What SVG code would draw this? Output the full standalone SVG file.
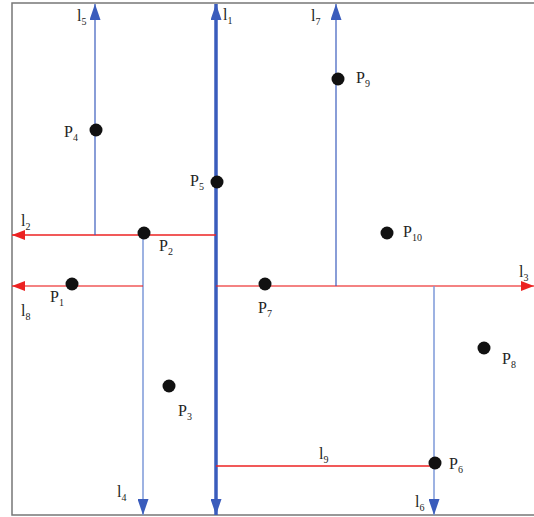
<svg xmlns="http://www.w3.org/2000/svg" width="534" height="517" viewBox="0 0 534 517">
<style>
.t{font-family:"Liberation Serif","Times New Roman",serif;font-size:16px;fill:#222}
.s{font-size:10px}
.dot{fill:#111}
.blue{stroke:#3a5cbc;fill:none}
.lblue{stroke:#7d98d8;fill:none}
.red{stroke:#ec2222;fill:none}
</style>
<defs>
<marker id="ab" markerUnits="userSpaceOnUse" markerWidth="16" markerHeight="11" refX="16" refY="5.5" orient="auto" viewBox="0 0 16 11">
<path d="M0,0 L16,5.5 L0,11 Z" fill="#3a5cbc"/>
</marker>
<marker id="ar" markerUnits="userSpaceOnUse" markerWidth="13" markerHeight="10" refX="13" refY="5" orient="auto" viewBox="0 0 13 10">
<path d="M0,0 L13,5 L0,10 Z" fill="#ec2222"/>
</marker>
</defs>
<path d="M534,3 H12 V515 H534" fill="none" stroke="#777" stroke-width="1.5"/>
<g id="connectors">
<line id="l1a" class="blue" x1="216" y1="236" x2="216" y2="4" stroke-width="3.5" marker-end="url(#ab)"/>
<line id="l1b" class="blue" x1="216" y1="236" x2="216" y2="515" stroke-width="3.5" marker-end="url(#ab)"/>
<line id="l2" class="red" x1="216" y1="235" x2="12" y2="235" stroke-width="1.5" marker-end="url(#ar)"/>
<line id="l5" class="blue" x1="95" y1="235" x2="95" y2="4" stroke-width="1.2" marker-end="url(#ab)"/>
<line id="l4" class="lblue" x1="143" y1="235" x2="143" y2="515" stroke-width="1.5" marker-end="url(#ab)"/>
<line id="l8" class="red" x1="143" y1="286" x2="12" y2="286" stroke-width="1.5" stroke-opacity="0.75" marker-end="url(#ar)"/>
<line id="l3" class="red" x1="216" y1="286" x2="534" y2="286" stroke-width="1.5" stroke-opacity="0.75" marker-end="url(#ar)"/>
<line id="l7" class="blue" x1="336" y1="286" x2="336" y2="4" stroke-width="1.2" marker-end="url(#ab)"/>
<line id="l6" class="lblue" x1="434" y1="286" x2="434" y2="515" stroke-width="1.5" marker-end="url(#ab)"/>
<line id="l9" class="red" x1="216" y1="466" x2="434" y2="466" stroke-width="1.5"/>
</g>
<g id="P1"><circle class="dot" cx="72" cy="284" r="6.5"/><text class="t" x="50" y="302">P<tspan class="s" dy="4">1</tspan></text></g>
<g id="P2"><circle class="dot" cx="144" cy="233" r="6.5"/><text class="t" x="159" y="251">P<tspan class="s" dy="4">2</tspan></text></g>
<g id="P3"><circle class="dot" cx="169" cy="386" r="6.5"/><text class="t" x="178" y="416">P<tspan class="s" dy="4">3</tspan></text></g>
<g id="P4"><circle class="dot" cx="96" cy="130" r="6.5"/><text class="t" x="64" y="137">P<tspan class="s" dy="4">4</tspan></text></g>
<g id="P5"><circle class="dot" cx="217" cy="182" r="6.5"/><text class="t" x="190" y="186">P<tspan class="s" dy="4">5</tspan></text></g>
<g id="P6"><circle class="dot" cx="435" cy="463" r="6.5"/><text class="t" x="449" y="469">P<tspan class="s" dy="4">6</tspan></text></g>
<g id="P7"><circle class="dot" cx="265" cy="284" r="6.5"/><text class="t" x="258" y="313">P<tspan class="s" dy="4">7</tspan></text></g>
<g id="P8"><circle class="dot" cx="484" cy="348" r="6.5"/><text class="t" x="502" y="364">P<tspan class="s" dy="4">8</tspan></text></g>
<g id="P9"><circle class="dot" cx="338" cy="79" r="6.5"/><text class="t" x="356" y="83">P<tspan class="s" dy="4">9</tspan></text></g>
<g id="P10"><circle class="dot" cx="387" cy="233" r="6.5"/><text class="t" x="403" y="237">P<tspan class="s" dy="4">10</tspan></text></g>
<g id="labels">
<text class="t" x="223" y="20">l<tspan class="s" dy="4">1</tspan></text>
<text class="t" x="21" y="226">l<tspan class="s" dy="4">2</tspan></text>
<text class="t" x="519" y="277">l<tspan class="s" dy="4">3</tspan></text>
<text class="t" x="117" y="497">l<tspan class="s" dy="4">4</tspan></text>
<text class="t" x="77" y="21">l<tspan class="s" dy="4">5</tspan></text>
<text class="t" x="415" y="507">l<tspan class="s" dy="4">6</tspan></text>
<text class="t" x="311" y="21">l<tspan class="s" dy="4">7</tspan></text>
<text class="t" x="21" y="316">l<tspan class="s" dy="4">8</tspan></text>
<text class="t" x="319" y="459">l<tspan class="s" dy="4">9</tspan></text>
</g>
</svg>
